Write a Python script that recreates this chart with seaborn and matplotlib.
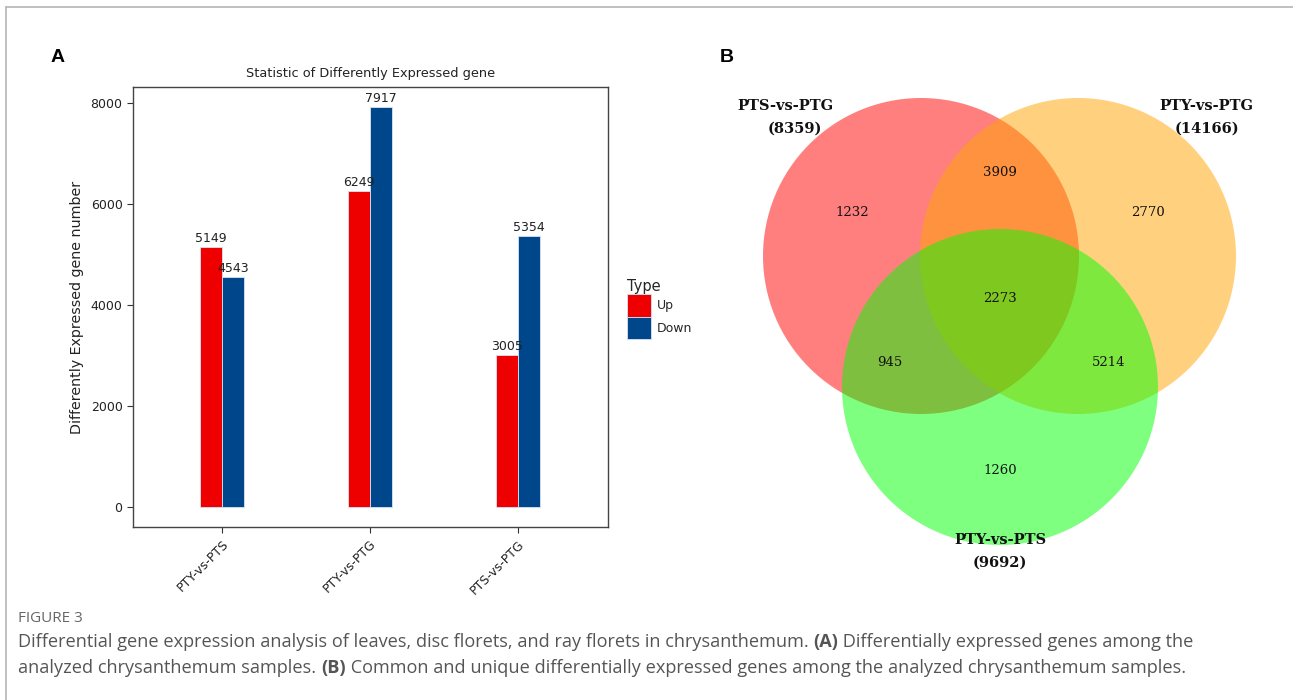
import numpy as np
import pandas as pd
import matplotlib
matplotlib.use("Agg")
import matplotlib.pyplot as plt
import seaborn as sns
from matplotlib.patches import Circle
from matplotlib.lines import Line2D

# ---------------- data ----------------
groups = ["PTY-vs-PTS", "PTY-vs-PTG", "PTS-vs-PTG"]
types = ["Up", "Down"]
up_counts = [5149, 6249, 3005]
down_counts = [4543, 7917, 5354]

venn_names = ["PTS-vs-PTG", "PTY-vs-PTG", "PTY-vs-PTS"]
venn_totals = [8359, 14166, 9692]
# region counts: only A, only B, only C, A&B, A&C, B&C, A&B&C
venn_regions = {"A": 1232, "B": 2770, "C": 1260, "AB": 3909, "AC": 945, "BC": 5214, "ABC": 2273}

W, H = 1293, 700
sns.set_theme(style="white")
plt.rcParams["font.family"] = ["DejaVu Sans"]

fig = plt.figure(figsize=(W / 100, H / 100), dpi=100)

def fx(px):
    return px / W

def fy(py):
    return 1 - py / H

# ---------------- panel A: bar chart ----------------
df = pd.DataFrame({
    "Group": groups * 2,
    "Type": ["Up"] * 3 + ["Down"] * 3,
    "Count": up_counts + down_counts,
})
ax = fig.add_axes([fx(133), fy(527), fx(608) - fx(133), fy(87) - fy(527)])
sns.barplot(data=df, x="Group", y="Count", hue="Type", hue_order=types, order=groups,
            palette={"Up": "#EE0000", "Down": "#00468B"}, width=0.3,
            edgecolor="#d6e4f2", linewidth=0.6, ax=ax, errorbar=None, saturation=1)
for cont in ax.containers:
    ax.bar_label(cont, fmt="%d", padding=1.5, fontsize=9, color="#222222")
rng = max(max(up_counts), max(down_counts))
ax.set_ylim(-0.05 * rng, rng * 1.05)
ax.set_xlim(-0.6, 2.61)
ax.set_yticks([0, 2000, 4000, 6000, 8000])
ax.tick_params(axis="both", which="both", direction="out", length=4, width=0.8,
               color="#333333", labelsize=9, labelcolor="#222222", bottom=True, left=True)
for lab in ax.get_xticklabels():
    lab.set_rotation(45)
    lab.set_ha("right")
    lab.set_rotation_mode("anchor")
ax.set_xlabel("")
ax.set_ylabel("Differently Expressed gene number", fontsize=10.3, color="#222222", labelpad=5)
ax.set_title("Statistic of Differently Expressed gene", fontsize=9.3, color="#222222", pad=7)
for sp in ax.spines.values():
    sp.set_visible(True)
    sp.set_color("#444444")
    sp.set_linewidth(1.0)
ax.grid(False)
leg = ax.legend(title="Type", loc="upper left", bbox_to_anchor=(fx(622), fy(274)),
                bbox_transform=fig.transFigure, frameon=False, fontsize=9,
                title_fontsize=10.5, handlelength=1.9, handleheight=2.4,
                labelspacing=0.0, handletextpad=0.5, borderaxespad=0)
leg._legend_box.align = "left"

# ---------------- panel B: Venn diagram ----------------
axv = fig.add_axes([fx(700), 0, fx(1293) - fx(700), 1])
axv.set_xlim(700, 1293)
axv.set_ylim(700, 0)
axv.axis("off")
r = 158
centers = [(921, 256), (1078, 256), (1000, 387)]
cols = ["#FF0000", "#FFA500", "#00FF00"]
for (cx, cy), c in zip(centers, cols):
    axv.add_patch(Circle((cx, cy), r, facecolor=c, alpha=0.5, edgecolor="none"))

num_pos = {"A": (852, 212), "B": (1148, 212), "C": (1000, 470), "AB": (1000, 172),
           "AC": (890, 362), "BC": (1109, 362), "ABC": (1000, 298)}
for k, (px, py) in num_pos.items():
    axv.text(px, py, str(venn_regions[k]), ha="center", va="center",
             fontsize=9.5, family="DejaVu Serif", color="#111111")

lab_pos = [(785, 106, 795, 129), (1206, 106, 1207, 129), (1000, 540, 1000, 563)]
for name, tot, (x1, y1, x2, y2) in zip(venn_names, venn_totals, lab_pos):
    axv.text(x1, y1, name, ha="center", va="center", fontsize=10.5, fontweight="bold",
             family="DejaVu Serif", color="#111111")
    axv.text(x2, y2, f"({tot})", ha="center", va="center", fontsize=10.5, fontweight="bold",
             family="DejaVu Serif", color="#111111")

# ---------------- panel letters ----------------
fig.text(fx(51), fy(57), "A", fontsize=14, fontweight="bold", family="Liberation Sans",
         ha="left", va="center", color="black")
fig.text(fx(720), fy(57), "B", fontsize=14, fontweight="bold", family="Liberation Sans",
         ha="left", va="center", color="black")

# ---------------- frame lines ----------------
fig.add_artist(Line2D([fx(6), 1], [fy(7), fy(7)], color="#b5b5b5", lw=1.2, transform=fig.transFigure))
fig.add_artist(Line2D([fx(6), fx(6)], [fy(7), 0], color="#b5b5b5", lw=1.2, transform=fig.transFigure))

# ---------------- caption ----------------
cap_font = "Open Sans"
fig.text(fx(18), fy(619), "FIGURE 3", fontsize=11, color="#666666", family=cap_font,
         ha="left", va="center")

renderer = fig.canvas.get_renderer()

def rich_line(x_px, y_px, segments, size=13.1, color="#555555"):
    cur = x_px
    for s, w in segments:
        t = fig.text(fx(cur), fy(y_px), s, fontsize=size, fontweight=w, color=color,
                     family=cap_font, ha="left", va="center")
        bb = t.get_window_extent(renderer)
        cur += bb.width

rich_line(18, 642, [
    ("Differential gene expression analysis of leaves, disc florets, and ray florets in chrysanthemum. ", "normal"),
    ("(A)", "bold"),
    (" Differentially expressed genes among the", "normal"),
])
rich_line(18, 668, [
    ("analyzed chrysanthemum samples. ", "normal"),
    ("(B)", "bold"),
    (" Common and unique differentially expressed genes among the analyzed chrysanthemum samples.", "normal"),
])

fig.savefig("out.png", dpi=100)
